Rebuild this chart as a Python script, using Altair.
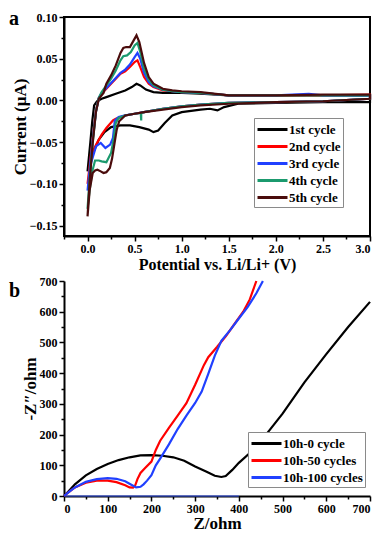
import altair as alt
import pandas as pd

# ---------------- Panel a: cyclic voltammetry ----------------
cycles = ["1st cycle", "2nd cycle", "3rd cycle", "4th cycle", "5th cycle"]
cycle_colors = ["#000000", "#ff0000", "#2040ff", "#1b9a6e", "#4a0c0c"]

c1_v = [0, 0.03, 0.05, 0.07, 0.1, 0.15, 0.2, 0.3, 0.4, 0.47, 0.52, 0.56, 0.62, 0.7, 0.8, 1.0, 1.2, 1.5, 2.0, 2.5, 3.0,
        3.0, 2.5, 2.0, 1.6, 1.45, 1.38, 1.3, 1.2, 1.0, 0.9, 0.82, 0.75, 0.7, 0.65, 0.55, 0.45, 0.35, 0.25, 0.18, 0.12, 0.07, 0.03, 0]
c1_i = [-0.085, -0.05, -0.025, -0.006, -0.001, 0.002, 0.004, 0.008, 0.012, 0.016, 0.02, 0.018, 0.013, 0.01, 0.009, 0.009, 0.008, 0.006, 0.006, 0.006, 0.006,
        -0.002, -0.002, -0.003, -0.004, -0.008, -0.012, -0.01, -0.011, -0.014, -0.018, -0.027, -0.036, -0.038, -0.035, -0.032, -0.03, -0.03, -0.032, -0.038, -0.047, -0.06, -0.07, -0.085]

c2_v = [0, 0.025, 0.055, 0.09, 0.12, 0.15, 0.2, 0.25, 0.3, 0.35, 0.4, 0.45, 0.5, 0.53, 0.56, 0.6, 0.65, 0.7, 0.8, 0.9, 1.0, 1.2, 1.5, 2.0, 2.5, 3.0,
        3.0, 2.5, 2.0, 1.5, 1.2, 1.0, 0.8, 0.6, 0.5, 0.4, 0.35, 0.3, 0.27, 0.2, 0.15, 0.09, 0.06, 0.03, 0]
c2_i = [-0.1, -0.075, -0.045, -0.012, 0.003, 0.008, 0.014, 0.02, 0.026, 0.032, 0.035, 0.04, 0.046, 0.048, 0.04, 0.028, 0.02, 0.016, 0.012, 0.011, 0.01, 0.009, 0.006, 0.006, 0.006, 0.007,
        0.002, -0.001, -0.002, -0.003, -0.005, -0.007, -0.01, -0.014, -0.016, -0.018, -0.02, -0.022, -0.024, -0.033, -0.041, -0.053, -0.06, -0.075, -0.1]

c3_v = [0, 0.025, 0.055, 0.09, 0.12, 0.15, 0.2, 0.25, 0.3, 0.35, 0.4, 0.45, 0.5, 0.53, 0.56, 0.6, 0.65, 0.7, 0.8, 0.9, 1.0, 1.2, 1.5, 2.0, 2.35, 2.5, 3.0,
        3.0, 2.5, 2.0, 1.5, 1.2, 1.0, 0.8, 0.6, 0.5, 0.4, 0.33, 0.29, 0.27, 0.24, 0.19, 0.14, 0.09, 0.04, 0.015, 0]
c3_i = [-0.108, -0.08, -0.047, -0.013, 0.003, 0.009, 0.015, 0.021, 0.027, 0.033, 0.037, 0.043, 0.052, 0.057, 0.05, 0.033, 0.022, 0.017, 0.013, 0.011, 0.01, 0.009, 0.006, 0.006, 0.008, 0.006, 0.006,
        0.002, -0.001, -0.002, -0.003, -0.005, -0.007, -0.01, -0.014, -0.016, -0.018, -0.02, -0.024, -0.045, -0.053, -0.057, -0.051, -0.055, -0.074, -0.092, -0.108]

c4_v = [0, 0.025, 0.055, 0.09, 0.12, 0.15, 0.2, 0.25, 0.3, 0.35, 0.38, 0.42, 0.46, 0.5, 0.53, 0.56, 0.6, 0.65, 0.7, 0.8, 0.9, 1.0, 1.2, 1.5, 2.0, 2.5, 3.0,
        3.0, 2.5, 2.0, 1.5, 1.2, 1.0, 0.8, 0.6, 0.57, 0.57, 0.565, 0.5, 0.4, 0.33, 0.3, 0.28, 0.25, 0.2, 0.15, 0.12, 0.08, 0.05, 0.023, 0]
c4_i = [-0.13, -0.09, -0.05, -0.013, 0.003, 0.01, 0.018, 0.026, 0.036, 0.048, 0.053, 0.054, 0.058, 0.066, 0.069, 0.058, 0.038, 0.025, 0.018, 0.013, 0.011, 0.01, 0.009, 0.006, 0.006, 0.006, 0.006,
        0.002, -0.001, -0.002, -0.003, -0.005, -0.007, -0.01, -0.014, -0.015, -0.024, -0.015, -0.016, -0.018, -0.021, -0.027, -0.045, -0.063, -0.074, -0.073, -0.072, -0.072, -0.085, -0.107, -0.13]

c5_v = [0, 0.023, 0.055, 0.089, 0.12, 0.17, 0.2, 0.25, 0.3, 0.35, 0.38, 0.41, 0.45, 0.49, 0.52, 0.55, 0.6, 0.65, 0.7, 0.8, 0.9, 1.0, 1.2, 1.5, 2.0, 2.5, 3.0,
        3.0, 2.5, 2.0, 1.5, 1.2, 1.0, 0.8, 0.6, 0.5, 0.4, 0.336, 0.31, 0.287, 0.26, 0.237, 0.2, 0.17, 0.14, 0.105, 0.08, 0.055, 0.023, 0]
c5_i = [-0.139, -0.096, -0.051, -0.014, 0.002, 0.009, 0.02, 0.03, 0.042, 0.057, 0.063, 0.064, 0.064, 0.072, 0.078, 0.07, 0.045, 0.028, 0.02, 0.014, 0.012, 0.011, 0.01, 0.006, 0.006, 0.007, 0.007,
        0.002, -0.001, -0.002, -0.004, -0.006, -0.008, -0.011, -0.014, -0.016, -0.018, -0.025, -0.035, -0.051, -0.07, -0.081, -0.086, -0.087, -0.085, -0.083, -0.084, -0.087, -0.107, -0.139]

cv_x_ticks = [-0.25, 0, 0.25, 0.5, 0.75, 1.0, 1.25, 1.5, 1.75, 2.0, 2.25, 2.5, 2.75, 3.0]
cv_y_ticks = [-0.15, -0.125, -0.1, -0.075, -0.05, -0.025, 0.0, 0.025, 0.05, 0.075, 0.1]

# ---------------- Panel b: Nyquist plots ----------------
series = ["10h-0   cycle", "10h-50  cycles", "10h-100 cycles"]
series_colors = ["#000000", "#ff0000", "#2040ff"]

s0_x = [0, 10, 25, 50, 75, 100, 125, 150, 175, 200, 225, 250, 275, 300, 325, 345, 360, 370, 385, 400, 425, 450, 500, 550, 600, 650, 700]
s0_y = [0, 15, 38, 67, 88, 104, 117, 126, 132, 133, 131, 126, 115, 96, 80, 66, 62, 65, 85, 108, 140, 178, 268, 370, 462, 550, 632]

s1_x = [0, 10, 25, 50, 75, 100, 120, 140, 150, 158, 163, 168, 175, 185, 200, 210, 220, 240, 260, 280, 300, 320, 330, 350, 370, 390, 410, 425, 440]
s1_y = [0, 12, 28, 43, 50, 50, 45, 35, 28, 27, 35, 55, 75, 90, 112, 150, 180, 222, 262, 302, 362, 426, 452, 485, 520, 560, 600, 640, 700]

s2_x = [0, 10, 25, 50, 75, 100, 120, 140, 155, 165, 175, 182, 190, 200, 210, 220, 240, 260, 280, 300, 315, 330, 345, 360, 380, 400, 420, 440, 455]
s2_y = [0, 12, 28, 46, 55, 58, 56, 48, 36, 28, 30, 38, 50, 68, 100, 122, 168, 218, 262, 303, 340, 398, 457, 505, 540, 578, 615, 660, 700]

s2_base_x = [0, 400]
s2_base_y = [0, 0]

eis_ticks = [0, 50, 100, 150, 200, 250, 300, 350, 400, 450, 500, 550, 600, 650, 700]

panel_letters = ["a", "b"]

FONT = "Liberation Serif"
W = 306
H_TOP = 219
H_BOT = 215

# ---------------- tables ----------------
rows = []
for name, vs, cs in zip(cycles, [c1_v, c2_v, c3_v, c4_v, c5_v], [c1_i, c2_i, c3_i, c4_i, c5_i]):
    for k, (v, c) in enumerate(zip(vs, cs)):
        rows.append({"V": v, "I": c, "cycle": name, "idx": k})
cv_df = pd.DataFrame(rows)

rows = []
for name, xs, ys in zip(series, [s0_x, s1_x, s2_x], [s0_y, s1_y, s2_y]):
    for k, (x, y) in enumerate(zip(xs, ys)):
        rows.append({"Zr": x, "Zi": y, "series": name, "idx": k})
eis_df = pd.DataFrame(rows)
base_df = pd.DataFrame({"Zr": s2_base_x, "Zi": s2_base_y})


def axis(title, values, major_test, fmt, title_size, title_pad):
    return alt.Axis(
        title=title,
        values=values,
        labelExpr=f"({major_test}) ? format(datum.value, '{fmt}') : ''",
        labelOverlap=False,
        tickSize={"condition": {"test": major_test, "value": 5}, "value": 3},
        tickWidth=1.5,
        tickColor="black",
        domainColor="black",
        domainWidth=2,
        labelFont=FONT,
        labelFontWeight="bold",
        labelFontSize=12,
        labelColor="black",
        labelPadding=2,
        titleFont=FONT,
        titleFontWeight="bold",
        titleFontSize=title_size,
        titleColor="black",
        titlePadding=title_pad,
        grid=False,
    )


def legend(x, y):
    return alt.Legend(
        title=None,
        orient="none",
        legendX=x,
        legendY=y,
        symbolType="M-1,0H2.75",
        symbolSize=256,
        symbolStrokeWidth=3,
        labelFont=FONT,
        labelFontWeight="bold",
        labelFontSize=13,
        labelColor="black",
        labelOffset=14,
        rowPadding=0,
        padding=2,
        fillColor="white",
        strokeColor="#8a8a8a",
    )


cv_major_x = "abs(datum.value*2 - round(datum.value*2)) < 0.001"
cv_major_y = "abs(datum.value*20 - round(datum.value*20)) < 0.001"
eis_major = "datum.value % 100 == 0"

cv_xaxis = axis("Potential vs. Li/Li+ (V)", cv_x_ticks, cv_major_x, ".1f", 16, 2)
cv_yaxis = axis("Current (μA)", cv_y_ticks, cv_major_y, ".2f", 17, 0)
eis_xaxis = axis("Z/ohm", eis_ticks, eis_major, "d", 17, 1)
eis_yaxis = axis("-Z″/ohm", eis_ticks, eis_major, "d", 17, 0)

cv_lines = alt.Chart(cv_df).mark_line(strokeWidth=2.2).encode(
    x=alt.X("V:Q", scale=alt.Scale(domain=[-0.25, 3.0], nice=False, zero=False), axis=cv_xaxis),
    y=alt.Y("I:Q", scale=alt.Scale(domain=[-0.1625, 0.10], nice=False, zero=False), axis=cv_yaxis),
    color=alt.Color("cycle:N", scale=alt.Scale(domain=cycles, range=cycle_colors),
                    legend=legend(190, 101)),
    order="idx:Q",
)

label_a = alt.Chart(pd.DataFrame({"t": [panel_letters[0]]})).mark_text(
    font=FONT, fontWeight="bold", fontSize=20, align="left", baseline="alphabetic", color="black"
).encode(x=alt.value(-55), y=alt.value(8), text="t:N")

top = alt.layer(cv_lines, label_a).properties(
    width=W, height=H_TOP,
    view=alt.ViewBackground(stroke="black", strokeWidth=2, strokeOpacity=1),
)

eis_xscale = alt.Scale(domain=[0, 700], nice=False)
eis_yscale = alt.Scale(domain=[0, 700], nice=False)

eis_lines = alt.Chart(eis_df).mark_line(strokeWidth=2.2).encode(
    x=alt.X("Zr:Q", scale=eis_xscale, axis=eis_xaxis),
    y=alt.Y("Zi:Q", scale=eis_yscale, axis=eis_yaxis),
    color=alt.Color("series:N", scale=alt.Scale(domain=series, range=series_colors),
                    legend=legend(184, 151)),
    order="idx:Q",
)

eis_base = alt.Chart(base_df).mark_line(strokeWidth=1, color="#4060ff").encode(
    x=alt.X("Zr:Q", scale=eis_xscale, axis=eis_xaxis),
    y=alt.Y("Zi:Q", scale=eis_yscale, axis=eis_yaxis),
)

label_b = alt.Chart(pd.DataFrame({"t": [panel_letters[1]]})).mark_text(
    font=FONT, fontWeight="bold", fontSize=20, align="left", baseline="alphabetic", color="black"
).encode(x=alt.value(-55), y=alt.value(16), text="t:N")

bottom = alt.layer(eis_base, eis_lines, label_b).properties(
    width=W, height=H_BOT,
    view=alt.ViewBackground(strokeOpacity=0),
)

chart = alt.vconcat(top, bottom, spacing=2).resolve_scale(color="independent").properties(
    padding={"left": 0, "top": 0, "right": 0, "bottom": 0}
).configure_view(strokeOpacity=0)

chart.save("out.html", embed_options={"renderer": "svg", "actions": False})
